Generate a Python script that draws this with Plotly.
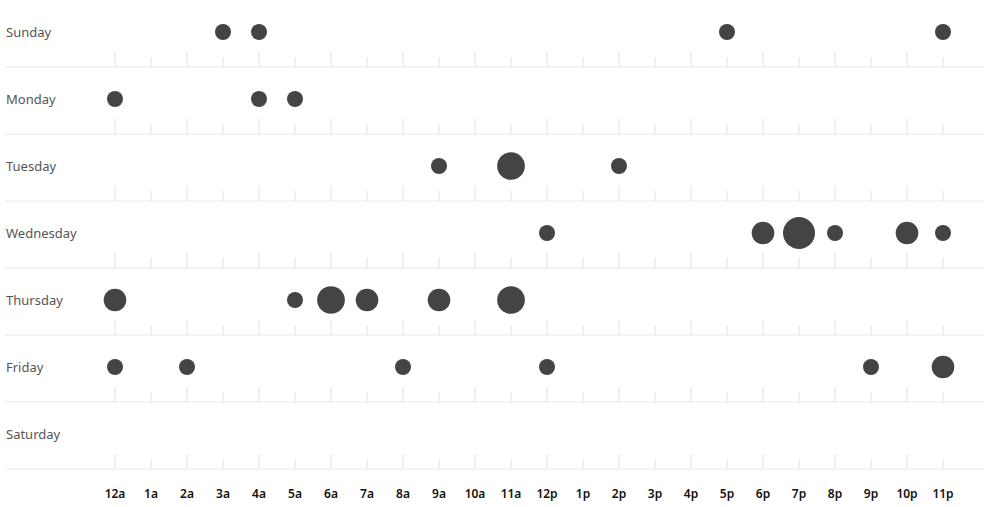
import plotly.graph_objects as go

days = ["Sunday", "Monday", "Tuesday", "Wednesday", "Thursday", "Friday", "Saturday"]
hour_labels = ["12a", "1a", "2a", "3a", "4a", "5a", "6a", "7a", "8a", "9a", "10a", "11a",
               "12p", "1p", "2p", "3p", "4p", "5p", "6p", "7p", "8p", "9p", "10p", "11p"]

# punch card: (day, hour, count)
punch_day = ["Sunday", "Sunday", "Sunday", "Sunday",
             "Monday", "Monday", "Monday",
             "Tuesday", "Tuesday", "Tuesday",
             "Wednesday", "Wednesday", "Wednesday", "Wednesday", "Wednesday", "Wednesday",
             "Thursday", "Thursday", "Thursday", "Thursday", "Thursday", "Thursday",
             "Friday", "Friday", "Friday", "Friday", "Friday", "Friday"]
punch_hour = [3, 4, 17, 23,
              0, 4, 5,
              9, 11, 14,
              12, 18, 19, 20, 22, 23,
              0, 5, 6, 7, 9, 11,
              0, 2, 8, 12, 21, 23]
punch_count = [1, 1, 1, 1,
               1, 1, 1,
               1, 3, 1,
               1, 2, 4, 1, 2, 1,
               2, 1, 3, 2, 2, 3,
               1, 1, 1, 1, 1, 2]

W, H = 991, 507
x0_px, step_px = 115, 36      # pixel of 12a, pixels per hour
row_px, first_px = 67, 32     # row height, centre of first row
bottom_margin = 30
plot_h = H - bottom_margin

xr = [-x0_px / step_px, (W - x0_px) / step_px]
yr = [(plot_h - first_px) / row_px, -first_px / row_px]

day_idx = {d: i for i, d in enumerate(days)}
line_off = (row_px - first_px) / row_px
x_left = (5 - x0_px) / step_px
x_right = (985 - x0_px) / step_px

fig = go.Figure()

# count 1 -> 16px wide dot, area grows with count
fig.add_trace(go.Scatter(
    x=punch_hour,
    y=[day_idx[d] for d in punch_day],
    mode="markers",
    marker=dict(size=punch_count, sizemode="area", sizeref=2 / 256,
                color="#444444", opacity=1, line=dict(width=0)),
    hoverinfo="skip",
    showlegend=False,
))

shapes = []
for i, d in enumerate(days):
    yl = i + line_off
    shapes.append(dict(type="line", xref="x", yref="y", x0=x_left, x1=x_right, y0=yl, y1=yl,
                       line=dict(color="#e8e8e8", width=1), layer="below"))
    for h in range(len(hour_labels)):
        tick_len = 15 if h % 2 == 0 else 10
        shapes.append(dict(type="line", xref="x", yref="y", x0=h, x1=h,
                           y0=yl, y1=yl - tick_len / row_px,
                           line=dict(color="#e0e0e0", width=1), layer="below"))

annotations = [dict(x=0, xref="paper", xanchor="left", xshift=4, y=i, yref="y",
                    text=d, showarrow=False,
                    font=dict(family="Noto Sans", size=13, color="#555555"))
               for i, d in enumerate(days)]

fig.update_layout(
    width=W, height=H,
    margin=dict(l=0, r=0, t=0, b=bottom_margin),
    paper_bgcolor="white", plot_bgcolor="white",
    shapes=shapes, annotations=annotations,
    xaxis=dict(range=xr, tickvals=list(range(len(hour_labels))), ticktext=hour_labels,
               showgrid=False, zeroline=False, showline=False, ticks="",
               ticklabelstandoff=8,
               tickfont=dict(family="Noto Sans", size=12, color="#111111", weight=600)),
    yaxis=dict(range=yr, showgrid=False, zeroline=False, showline=False,
               showticklabels=False, ticks=""),
    hovermode=False,
)

# drop the page's default body margin so the figure sits at the window's corner
fig.write_html("out.html", config={"displayModeBar": False},
               post_script="document.body.style.margin='0';")
